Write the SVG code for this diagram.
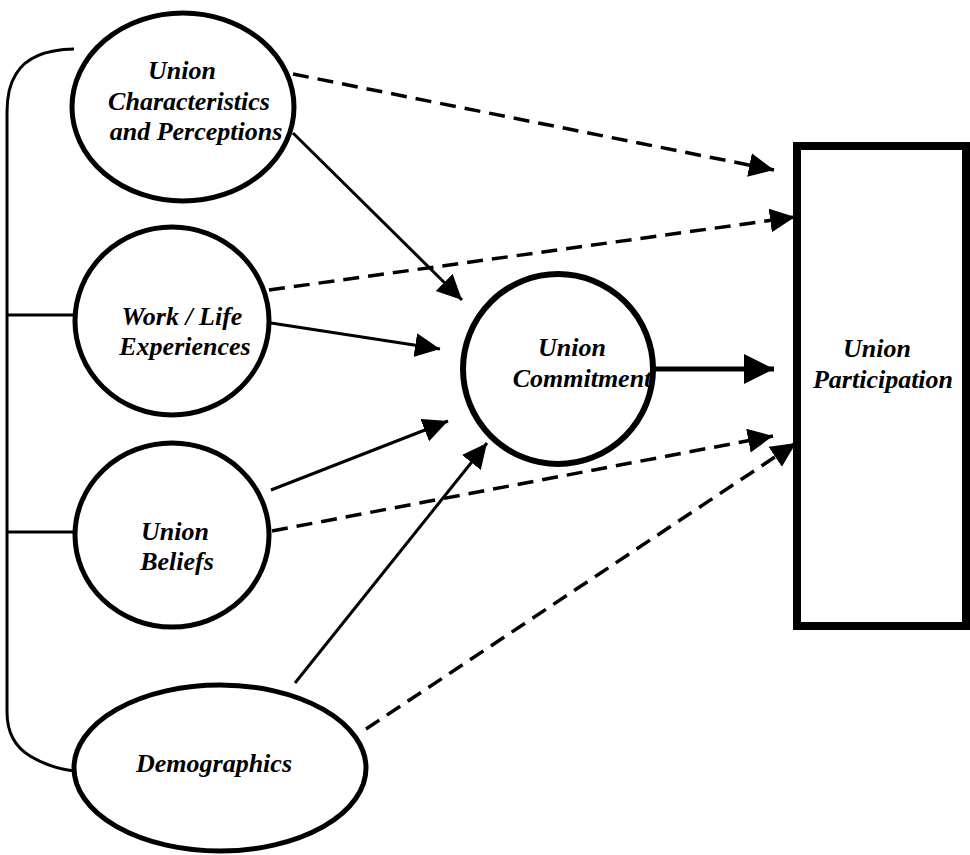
<svg xmlns="http://www.w3.org/2000/svg" width="970" height="855" viewBox="0 0 970 855">
  <style>
    .node { fill: #fff; stroke: #000; stroke-width: 5; }
    .lbl { font-family: "Liberation Serif", "Times New Roman", serif; font-weight: bold; font-style: italic; font-size: 26px; fill: #000; text-anchor: middle; }
    .solid { stroke: #000; stroke-width: 3; fill: none; }
    .dash { stroke: #000; stroke-width: 3.5; fill: none; stroke-dasharray: 16 9; }
    .bracket { stroke: #000; stroke-width: 3; fill: none; }
  </style>
  <defs>
    <marker id="ah" markerUnits="userSpaceOnUse" markerWidth="26" markerHeight="26" refX="25" refY="12" orient="auto">
      <path d="M0,0 L25,12 L0,24 Z" fill="#000"/>
    </marker>
    <marker id="ahBig" markerUnits="userSpaceOnUse" markerWidth="32" markerHeight="32" refX="30" refY="15" orient="auto">
      <path d="M0,0 L30,15 L0,30 Z" fill="#000"/>
    </marker>
  </defs>
  <rect width="970" height="855" fill="#fff"/>

  <g id="bracket">
    <path class="bracket" d="M74,49 Q30,50 16,74 Q7,88 7,112 L7,712 Q7,742 30,756 Q50,768 74,771"/>
    <line class="bracket" x1="7" y1="315" x2="74" y2="315"/>
    <line class="bracket" x1="7" y1="532" x2="74" y2="532"/>
  </g>

  <g id="connectors">
    <line class="dash" x1="293" y1="74" x2="774" y2="170" marker-end="url(#ah)"/>
    <line class="solid" x1="293" y1="133" x2="462" y2="300" marker-end="url(#ah)"/>
    <line class="dash" x1="269" y1="290" x2="795" y2="217" marker-end="url(#ah)"/>
    <line class="solid" x1="271" y1="323" x2="440" y2="349" marker-end="url(#ah)"/>
    <line class="solid" x1="271" y1="490" x2="448" y2="421" marker-end="url(#ah)"/>
    <line class="dash" x1="272" y1="531" x2="773" y2="436" marker-end="url(#ah)"/>
    <line class="solid" x1="295" y1="683" x2="487" y2="443" marker-end="url(#ah)"/>
    <line class="dash" x1="366" y1="729" x2="796" y2="443" marker-end="url(#ah)"/>
    <line class="solid" style="stroke-width:5" x1="655" y1="369" x2="774" y2="369" marker-end="url(#ahBig)"/>
  </g>

  <g id="union-characteristics">
    <ellipse class="node" cx="183" cy="107" rx="111" ry="94"/>
    <text class="lbl" x="182" y="79">Union</text>
    <text class="lbl" x="189" y="110">Characteristics</text>
    <text class="lbl" x="196" y="140">and Perceptions</text>
  </g>

  <g id="work-life">
    <ellipse class="node" cx="172" cy="321" rx="97" ry="94"/>
    <text class="lbl" x="182" y="325">Work / Life</text>
    <text class="lbl" x="185" y="355">Experiences</text>
  </g>

  <g id="union-beliefs">
    <ellipse class="node" cx="172" cy="535" rx="97" ry="92"/>
    <text class="lbl" x="175" y="540">Union</text>
    <text class="lbl" x="177" y="570">Beliefs</text>
  </g>

  <g id="demographics">
    <ellipse class="node" cx="220" cy="768" rx="146" ry="83"/>
    <text class="lbl" x="214" y="772">Demographics</text>
  </g>

  <g id="union-commitment">
    <circle class="node" style="stroke-width:6" cx="558" cy="369" r="95"/>
    <text class="lbl" x="572" y="356">Union</text>
    <text class="lbl" x="582" y="387">Commitment</text>
  </g>

  <g id="union-participation">
    <rect x="797" y="146" width="169" height="480" fill="#fff" stroke="#000" stroke-width="8"/>
    <text class="lbl" x="877" y="357">Union</text>
    <text class="lbl" x="883" y="388">Participation</text>
  </g>
</svg>
